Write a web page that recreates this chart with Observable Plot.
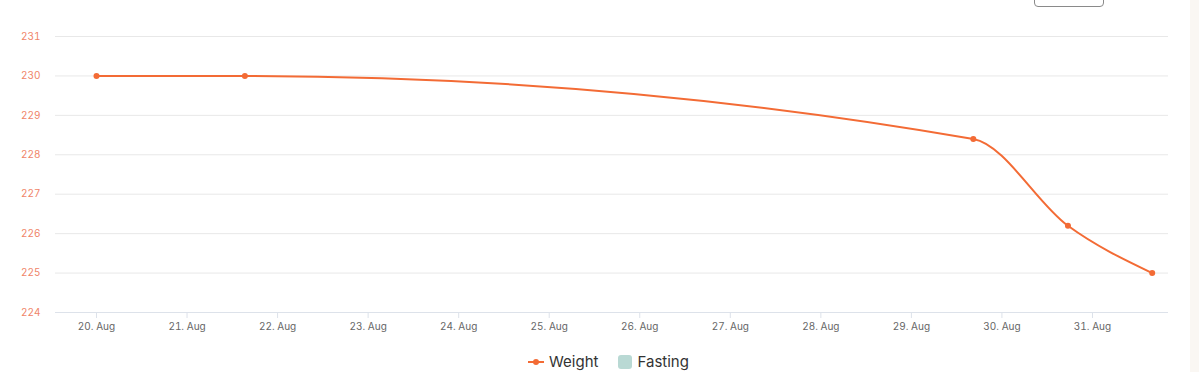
<!DOCTYPE html>
<html>
<head>
<meta charset="utf-8">
<script src="https://cdn.jsdelivr.net/npm/d3@7"></script>
<script src="https://cdn.jsdelivr.net/npm/@observablehq/plot@0.6"></script>
<style>
  html, body { margin: 0; padding: 0; background: #fff; overflow: hidden; }
  #wrap { position: relative; width: 1199px; height: 372px; font-family: Inter, "Noto Sans", sans-serif; }
  #btn { position: absolute; left: 1034px; top: -10px; width: 68px; height: 15px; border: 1px solid #8a8a8a; border-radius: 4px; }
  #stripe { position: absolute; left: 1190px; top: 0; width: 9px; height: 372px; background: #faf7f3; }
  #chart { position: absolute; left: 0; top: 0; }
  #legend { position: absolute; top: 352px; left: 0; width: 1199px; display: flex; justify-content: center; align-items: center; font-size: 15px; color: #333; padding-left: 18px; box-sizing: border-box; }
  .item { display: flex; align-items: center; margin: 0 10px; }
  .sw-line { position: relative; width: 16px; height: 2px; background: #f36b35; margin-right: 5px; }
  .sw-line::after { content: ""; position: absolute; left: 5px; top: -2px; width: 6px; height: 6px; border-radius: 50%; background: #f36b35; }
  .sw-sq { width: 14px; height: 14px; border-radius: 3px; background: #b9d9d4; margin-right: 5px; }
</style>
</head>
<body>
<div id="wrap">
  <div id="chart"></div>
  <div id="btn"></div>
  <div id="stripe"></div>
  <div id="legend">
    <div class="item"><div class="sw-line"></div><span>Weight</span></div>
    <div class="item"><div class="sw-sq"></div><span>Fasting</span></div>
  </div>
</div>
<script>
const dates = ["2023-08-20T00:00", "2023-08-21T15:20", "2023-08-29T16:25", "2023-08-30T17:30", "2023-08-31T15:50"];
const weights = [230, 230, 228.4, 226.2, 225];
const yTicks = [224, 225, 226, 227, 228, 229, 230, 231];
const xTickDays = ["2023-08-20", "2023-08-21", "2023-08-22", "2023-08-23", "2023-08-24", "2023-08-25", "2023-08-26", "2023-08-27", "2023-08-28", "2023-08-29", "2023-08-30", "2023-08-31"];
const xDomain = ["2023-08-19T13:08", "2023-08-31T20:09"];

const data = dates.map((d, i) => ({date: new Date(d + "Z"), weight: weights[i]}));
const xTicks = xTickDays.map(d => new Date(d + "T00:00Z"));
const fmt = d3.utcFormat("%-d. %b");
const orange = "#f36b35";

const chart = Plot.plot({
  width: 1199,
  height: 342,
  marginLeft: 55,
  marginRight: 31,
  marginTop: 36,
  marginBottom: 30,
  style: {fontFamily: "Inter, 'Noto Sans', sans-serif", fontSize: "10px", background: "transparent"},
  x: {type: "utc", domain: xDomain.map(d => new Date(d + "Z"))},
  y: {domain: [224, 231]},
  marks: [
    Plot.ruleY(yTicks, {stroke: "#e8e8e8", strokeWidth: 1}),
    Plot.ruleY([224], {stroke: "#dde2ea", strokeWidth: 1}),
    Plot.axisY({ticks: yTicks, tickSize: 0, tickPadding: 15, fill: "#f08468", fontSize: 10, tickFormat: d => String(d), label: null}),
    Plot.axisX({ticks: xTicks, tickSize: 6, tickPadding: 4, stroke: "#dde2ea", fill: "#666", fontSize: 10, tickFormat: fmt, label: null}),
    Plot.line(data, {x: "date", y: "weight", stroke: orange, strokeWidth: 2, curve: "monotone-x"}),
    Plot.dot(data, {x: "date", y: "weight", r: 3, fill: orange, stroke: "none"})
  ]
});
document.getElementById("chart").appendChild(chart);
</script>
</body>
</html>
